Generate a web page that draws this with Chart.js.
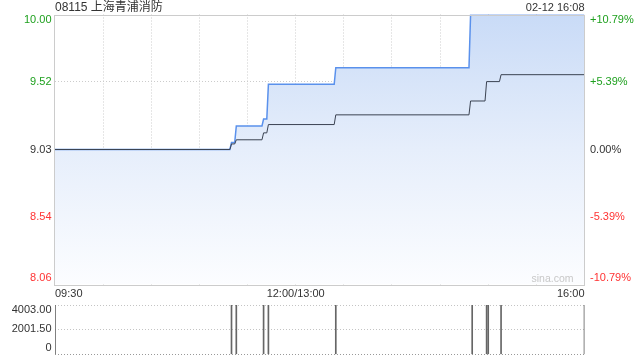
<!DOCTYPE html>
<html>
<head>
<meta charset="utf-8">
<script src="https://cdn.jsdelivr.net/npm/chart.js@4"></script>
<style>
  html,body{margin:0;padding:0;background:#fff;}
  #wrap{position:relative;width:640px;height:360px;overflow:hidden;}
  #main{position:absolute;left:0;top:0;}
  #vol{position:absolute;left:0;top:300px;}
</style>
</head>
<body>
<div id="wrap">
  <canvas id="main" width="640" height="300"></canvas>
  <canvas id="vol" width="640" height="60"></canvas>
</div>
<script>
// ---- data ----
const titleText = '08115 上海青浦消防';
const dateText = '02-12 16:08';
const prevClose = 9.03;
const priceMinutes = [0,109,110,112,113,129,130,132,133,174,175,258,259,330];
const priceValues  = [9.03,9.03,9.08,9.08,9.20,9.20,9.25,9.25,9.50,9.50,9.62,9.62,10.00,10.00];
const avgMinutes   = [0,109,110,112,113,129,130,132,133,174,175,258,259,268,269,277,278,330];
const avgValues    = [9.03,9.03,9.07,9.07,9.10,9.10,9.15,9.15,9.21,9.21,9.28,9.28,9.38,9.38,9.52,9.52,9.57,9.57];
const volMinutes   = [0,110,113,130,133,175,260,269,270,278,330];
const volValues    = [4003,4003,4003,4003,4003,4003,4003,4003,4003,4003,4003];
const yTickValues  = [8.0556,8.54,9.03,9.52,10.0043];
const yTickLabels  = ['8.06','8.54','9.03','9.52','10.00'];
const pctTickLabels= ['-10.79%','-5.39%','0.00%','+5.39%','+10.79%'];
const xGridMinutes = [0,30,60,90,120,150,180,210,240,270,300,330];
const xTickMinutes = [0,150,330];
const xTickLabels  = ['09:30','12:00/13:00','16:00'];
const volTickValues = [0,2001.5,4003];
const volTickLabels = ['0','2001.50','4003.00'];

const FONT = '"Liberation Sans", Arial, sans-serif';
const GREEN = '#1ea01e', RED = '#ff3333', DARK = '#333333';

function toXY(xs, ys){ return xs.map((x,i)=>({x:x,y:ys[i]})); }

const mainDecor = {
  id:'mainDecor',
  beforeDatasetsDraw(chart){
    const {ctx, chartArea:a, scales:{y}} = chart;
    // previous close dashed line
    const py = Math.round(y.getPixelForValue(prevClose)) + 0.5;
    ctx.save();
    ctx.strokeStyle = '#aaaaaa';
    ctx.lineWidth = 1;
    ctx.setLineDash([3,2]);
    ctx.beginPath(); ctx.moveTo(a.left, py); ctx.lineTo(a.right, py); ctx.stroke();
    ctx.restore();
  },
  afterDraw(chart){
    const {ctx, chartArea:a, scales:{x,y}} = chart;
    ctx.save();
    // frame
    ctx.strokeStyle = '#cccccc';
    ctx.lineWidth = 1;
    ctx.strokeRect(Math.round(a.left)-0.5, Math.round(a.top)+0.5, Math.round(a.right-a.left), Math.round(a.bottom-a.top));
    // y labels
    ctx.font = '11px ' + FONT;
    ctx.textBaseline = 'middle';
    yTickValues.forEach((v,i)=>{
      let py = y.getPixelForValue(v);
      if (i === yTickValues.length-1) py = a.top + 5.5;
      if (i === 0) py = a.bottom - 6.5;
      const col = v > prevClose + 1e-6 ? GREEN : (v < prevClose - 1e-6 ? RED : DARK);
      ctx.fillStyle = col;
      ctx.textAlign = 'right';
      ctx.fillText(yTickLabels[i], a.left - 3.5, py);
      ctx.textAlign = 'left';
      ctx.fillText(pctTickLabels[i], a.right + 5.5, py);
    });
    // x labels
    ctx.fillStyle = DARK;
    xTickMinutes.forEach((m,i)=>{
      const px = x.getPixelForValue(m);
      ctx.textAlign = i === 0 ? 'left' : (i === xTickMinutes.length-1 ? 'right' : 'center');
      ctx.fillText(xTickLabels[i], px, a.bottom + 9);
    });
    // title & date
    ctx.font = '12px ' + FONT + ', "Noto Sans CJK SC"';
    ctx.textAlign = 'left';
    ctx.fillText(titleText, a.left, 7.5);
    ctx.font = '11px ' + FONT;
    ctx.textAlign = 'right';
    ctx.fillText(dateText, a.right, 7.5);
    // watermark
    ctx.fillStyle = '#c8c8c8';
    ctx.font = '10.5px ' + FONT;
    ctx.fillText('sina.com', a.right - 11, a.bottom - 5.5);
    ctx.restore();
  }
};

new Chart(document.getElementById('main'), {
  type:'line',
  data:{
    datasets:[
      {
        data: toXY(priceMinutes, priceValues),
        borderColor:'#5a91ec',
        borderWidth:1.5,
        pointRadius:0,
        tension:0,
        fill:'start',
        backgroundColor:(c)=>{
          const ch = c.chart, ca = ch.chartArea;
          if(!ca) return 'rgba(200,220,248,0.6)';
          const g = ch.ctx.createLinearGradient(0, ca.top, 0, ca.bottom);
          g.addColorStop(0,'#c9dbf7');
          g.addColorStop(0.5,'#e6eefb');
          g.addColorStop(1,'#fcfdff');
          return g;
        },
        order:1
      },
      {
        data: toXY(avgMinutes, avgValues),
        borderColor:'#3b4352',
        borderWidth:1,
        pointRadius:0,
        tension:0,
        fill:false,
        order:0
      }
    ]
  },
  options:{
    responsive:false,
    animation:false,
    devicePixelRatio:1,
    layout:{padding:{left:55, right:55.5, top:14.5, bottom:15.5}},
    plugins:{legend:{display:false}, tooltip:{enabled:false}},
    scales:{
      x:{
        type:'linear', min:0, max:330,
        afterBuildTicks:(s)=>{ s.ticks = xGridMinutes.map(v=>({value:v})); },
        ticks:{display:false},
        grid:{drawTicks:false, color:(c)=> (c.tick && (c.tick.value===0 || c.tick.value===330)) ? 'rgba(0,0,0,0)' : '#cccccc'},
        border:{display:false, dash:[1,2]}
      },
      y:{
        type:'linear', min:yTickValues[0], max:yTickValues[yTickValues.length-1],
        afterBuildTicks:(s)=>{ s.ticks = yTickValues.map(v=>({value:v})); },
        ticks:{display:false},
        grid:{drawTicks:false, color:(c)=> (c.tick && (Math.abs(c.tick.value-prevClose)<1e-6 || c.index===0 || c.index===yTickValues.length-1)) ? 'rgba(0,0,0,0)' : '#cccccc'},
        border:{display:false, dash:[1,2]}
      }
    }
  },
  plugins:[mainDecor]
});

const volDecor = {
  id:'volDecor',
  afterDraw(chart){
    const {ctx, chartArea:a, scales:{y}} = chart;
    ctx.save();
    ctx.font = '11px ' + FONT;
    ctx.fillStyle = DARK;
    ctx.textAlign = 'right';
    ctx.textBaseline = 'middle';
    volTickValues.forEach((v,i)=>{
      let py = y.getPixelForValue(v);
      if (i === volTickValues.length-1) py = a.top + 5;
      if (i === 0) py = a.bottom - 6.5;
      if (i === 1) py = py - 0.5;
      ctx.fillText(volTickLabels[i], a.left - 3.5, py);
    });
    ctx.restore();
  }
};

new Chart(document.getElementById('vol'), {
  type:'bar',
  data:{
    datasets:[{
      data: toXY(volMinutes, volValues),
      backgroundColor:'#666666',
      barThickness:1,
      borderWidth:0
    }]
  },
  options:{
    responsive:false,
    animation:false,
    devicePixelRatio:1,
    layout:{padding:{left:55, right:55.5, top:5, bottom:5.5}},
    plugins:{legend:{display:false}, tooltip:{enabled:false}},
    scales:{
      x:{
        type:'linear', min:0, max:330, offset:false,
        ticks:{display:false},
        grid:{display:false, drawTicks:false},
        border:{display:false}
      },
      y:{
        type:'linear', min:0, max:4003,
        afterBuildTicks:(s)=>{ s.ticks = volTickValues.map(v=>({value:v})); },
        ticks:{display:false},
        grid:{drawTicks:false, color:(c)=> c.index===0 ? '#999999' : '#c4c4c4'},
        border:{display:false, dash:[1,2]}
      }
    }
  },
  plugins:[volDecor]
});
</script>
</body>
</html>
